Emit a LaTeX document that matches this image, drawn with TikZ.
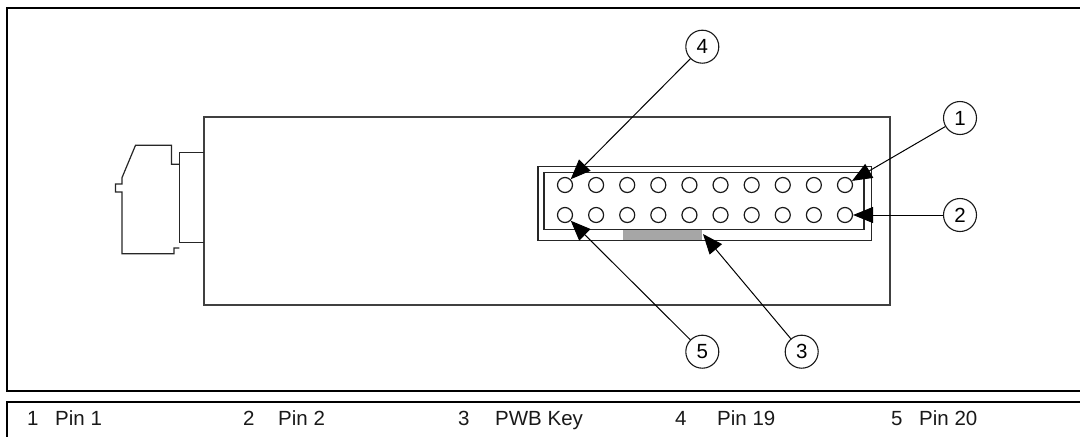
\documentclass[tikz,border=0pt]{standalone}
\usepackage{fontspec}
\setmainfont{Liberation Sans}
\usetikzlibrary{arrows.meta}
\tikzset{
  frameline/.style={line width=2pt,black},
  boxline/.style={line width=1.2pt,draw=black!85},
  pinhole/.style={circle,draw=black!90,line width=1.2pt,minimum size=15pt,inner sep=0pt,fill=white},
  callout/.style={circle,draw=black!90,line width=1.1pt,minimum size=33pt,inner sep=0pt,fill=white,font=\fontsize{20.5}{20.5}\selectfont},
  leader/.style={line width=1pt,draw=black,-{Triangle[length=20pt,width=16pt]}},
  legend/.style={anchor=base west,inner sep=0pt,font=\fontsize{20.5}{21}\selectfont,text=black!90}
}
\begin{document}
\begin{tikzpicture}[x=1pt,y=-1pt]
\useasboundingbox (0,0) rectangle (1080,437);
\draw[frameline] (1080,8) -- (6.5,8) -- (6.5,391) -- (1080,391);
\draw[frameline] (1080,402) -- (6.5,402) -- (6.5,437);
% body
\draw[line width=1.1pt,draw=black!75] (204,117) rectangle (890,305);
% connector
\draw[boxline,line join=miter] (204,152.3) -- (179.3,152.3) -- (179.3,242.3) -- (204,242.3);
\draw[boxline] (179.3,164.3) -- (171.5,164.3) -- (171.5,145.3) -- (135.5,145.3) -- (122,177.7) -- (122,184) -- (115.5,184) -- (115.5,192) -- (122,192) -- (122,253.7) -- (174,253.7) -- (174,248) -- (179.3,248);
% header
\fill[black!35] (623,230) rectangle (702,241);
\draw[boxline] (538,166.7) rectangle (871.7,240.7);
\draw[boxline] (544,172.3) rectangle (864,229.3);
\foreach \i in {0,...,9} {
  \node[pinhole] (a\i) at ({565+\i*31.11},185) {};
  \node[pinhole] (b\i) at ({565+\i*31.11},215) {};
}
% callouts
\node[callout] (c1) at (960,118) {1};
\node[callout] (c2) at (960,215) {2};
\node[callout] (c3) at (801.7,351.7) {3};
\node[callout] (c4) at (702.3,46.7) {4};
\node[callout] (c5) at (702.3,351.7) {5};
\coordinate (t3) at (703,234);
\draw[leader] (c1) -- (a9);
\draw[leader] (c2) -- (b9);
\draw[leader] (c3) -- (t3);
\draw[leader] (c4) -- (a0);
\draw[leader] (c5) -- (b0);
% legend
\node[legend] (n1) at (27,425) {1};
\node[legend] (l1) at (55,425) {Pin 1};
\node[legend] (n2) at (243,425) {2};
\node[legend] (l2) at (278,425) {Pin 2};
\node[legend] (n3) at (458,425) {3};
\node[legend] (l3) at (495,425) {PWB Key};
\node[legend] (n4) at (675,425) {4};
\node[legend] (l4) at (717,425) {Pin 19};
\node[legend] (n5) at (891,425) {5};
\node[legend] (l5) at (919,425) {Pin 20};
\end{tikzpicture}
\end{document}
